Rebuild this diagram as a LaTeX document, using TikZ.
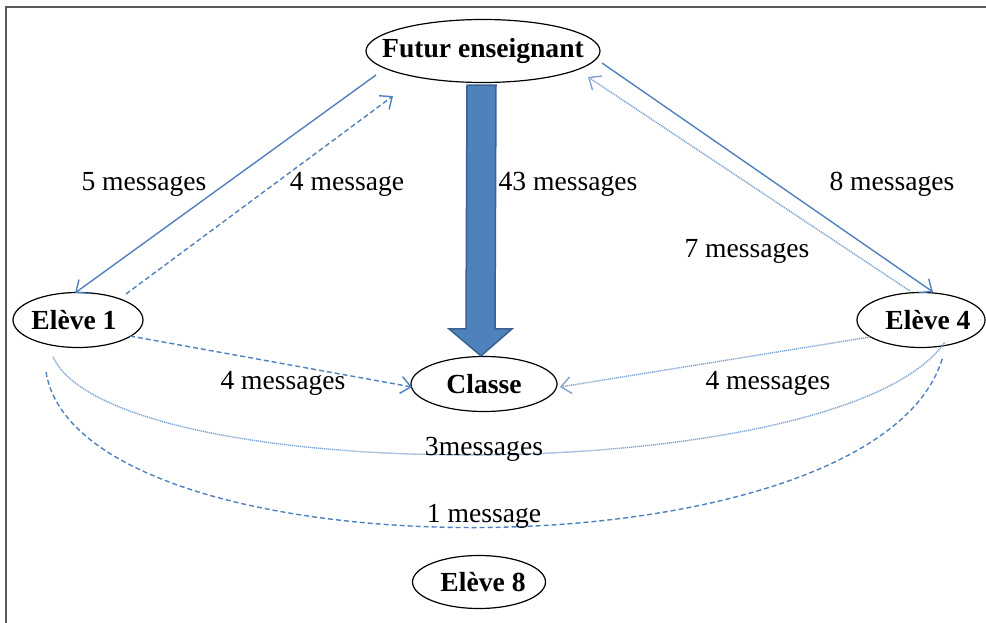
\documentclass[tikz,border=0pt]{standalone}
\usepackage{fontspec}
\setmainfont{Liberation Serif}
\usetikzlibrary{arrows.meta,shapes.geometric,calc}
\definecolor{lblue}{HTML}{4F81BD}
\definecolor{dblue}{HTML}{3A6191}
\definecolor{dotblue}{HTML}{7FA3D0}
\definecolor{framegray}{HTML}{5A5A5A}
\tikzset{
  ell/.style={ellipse, draw=black, line width=1.2pt, inner xsep=-40pt, inner ysep=0pt, fill=white,
    font=\bfseries\fontsize{27.6}{30}\selectfont},
  lab/.style={font=\fontsize{27.6}{30}\selectfont, inner sep=0pt},
  conn/.style={draw=lblue, line width=1.4pt,
    -{Straight Barb[length=10pt,width=17pt]}},
  dashconn/.style={conn, dash pattern=on 5pt off 3pt},
  dotconn/.style={conn, draw=dotblue, dash pattern=on 1.2pt off 0.8pt},
  plaindash/.style={draw=lblue, line width=1.4pt, dash pattern=on 5pt off 3pt},
  plaindot/.style={draw=dotblue, line width=1.4pt, dash pattern=on 1.2pt off 0.8pt},
  bigarrow/.style={fill=lblue, draw=dblue, line width=1.5pt, line join=miter}
}
\begin{document}
\begin{tikzpicture}[x=1pt,y=-1pt]
\useasboundingbox (0,0) rectangle (986,623);
\draw[framegray, line width=2pt] (986,7) -- (6,7) -- (6,623);

% nodes
\node[ell, minimum width=234, minimum height=63] (fe) at (483,51) {Futur enseignant};
\node[ell, minimum width=130, minimum height=55] (e1) at (78,320) {\hspace{-8pt}Elève 1};
\node[ell, minimum width=128, minimum height=55] (e4) at (921,320) {\hspace{14pt}Elève 4};
\node[ell, minimum width=146, minimum height=55] (cl) at (484,384) {Classe};
\node[ell, minimum width=133, minimum height=53] (e8) at (479,582) {\hspace{8pt}Elève 8};

% big arrow Futur enseignant -> Classe
\path[bigarrow] ($(fe.south)+(-16,2)$) -- ($(fe.south)+(13,2)$)
  -- ($(cl.north)+(11,-27)$) -- ($(cl.north)+(28,-27)$) -- ($(cl.north)+(-3,0)$)
  -- ($(cl.north)+(-35,-27)$) -- ($(cl.north)+(-18,-27)$) -- cycle;

% connectors
\draw[conn] ($(fe)+(-107,24)$) -- ($(e1)+(-3,-27)$);
\draw[dashconn] ($(e1)+(48,-26)$) -- ($(fe)+(-90,45)$);
\draw[conn] ($(fe)+(119,12)$) -- ($(e4)+(12,-28)$);
\draw[dotconn] ($(e4)+(-11,-29)$) -- ($(fe)+(105,26)$);
\draw[dashconn] ($(e1)+(52,16)$) -- ($(cl)+(-72,3)$);
\draw[dotconn] ($(e4)+(-51,17)$) -- ($(cl)+(76,3)$);

% curves
\draw[plaindot] ($(e1)+(-25,37)$) .. controls (115,490) and (843,490) .. ($(e4)+(24,22)$);
\draw[plaindash] ($(e1)+(-32,52)$) .. controls (80,582) and (881,582) .. ($(e4)+(22,36)$);

% labels
\node[lab] (l1) at (144,184) {5 messages};
\node[lab] (l2) at (347,184) {4 message};
\node[lab] (l3) at (568,184) {43 messages};
\node[lab] (l4) at (892,184) {8 messages};
\node[lab] (l5) at (747,251) {7 messages};
\node[lab] (l6) at (283,383) {4 messages};
\node[lab] (l7) at (768,383) {4 messages};
\node[lab] (l8) at (484,449) {3messages};
\node[lab] (l9) at (484,516) {1 message};
\end{tikzpicture}
\end{document}
